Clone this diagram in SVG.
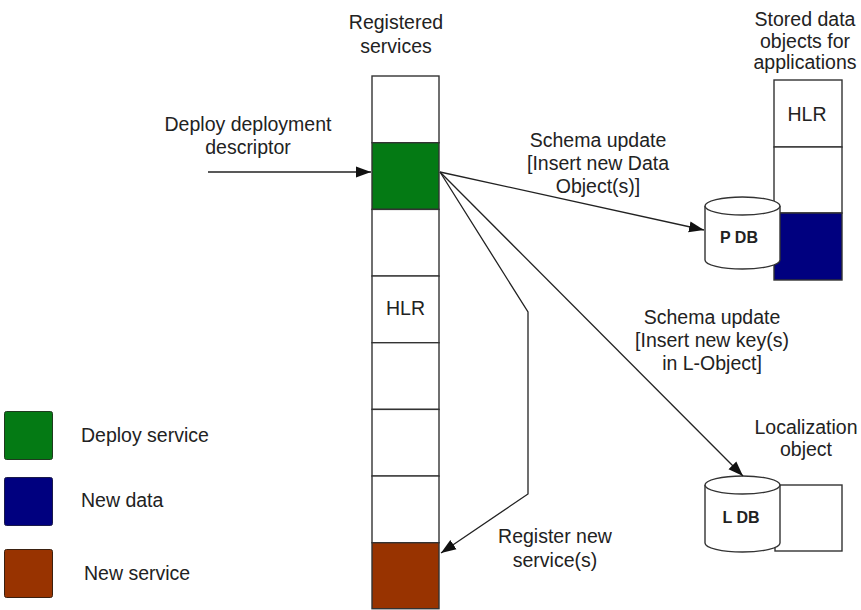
<svg xmlns="http://www.w3.org/2000/svg" width="861" height="610" viewBox="0 0 861 610">
<defs>
<style>
.t{font-family:"Liberation Sans",Arial,sans-serif;font-size:19.5px;fill:#222;}
.m{text-anchor:middle;}
.b{font-weight:bold;font-size:16px;}
.box{fill:#fff;stroke:#333;stroke-width:1.4;}
.green{fill:#047a14;}
.navy{fill:#00007f;}
.brown{fill:#983300;}
.conn{fill:none;stroke:#222;stroke-width:1.3;}
.db{fill:#fff;stroke:#333;stroke-width:1.4;}
</style>
<marker id="ah" markerWidth="16" markerHeight="12" refX="15" refY="6" orient="auto" markerUnits="userSpaceOnUse">
<path d="M0,0.5 L15,6 L0,11.5 Z" fill="#111"/>
</marker>
</defs>
<rect width="861" height="610" fill="#fff"/>

<g id="registered-services">
<text class="t m" x="396" y="29">Registered</text>
<text class="t m" x="396" y="53">services</text>
<rect class="box" x="372" y="76" width="67" height="66.7"/>
<rect class="box green" x="372" y="142.7" width="67" height="66.7"/>
<rect class="box" x="372" y="209.4" width="67" height="66.7"/>
<rect class="box" x="372" y="276" width="67" height="66.7"/>
<text class="t m" x="405.5" y="315">HLR</text>
<rect class="box" x="372" y="342.7" width="67" height="66.7"/>
<rect class="box" x="372" y="409.4" width="67" height="66.7"/>
<rect class="box" x="372" y="476" width="67" height="66.7"/>
<rect class="box brown" x="372" y="542.7" width="67" height="66"/>
</g>

<g id="stored-data">
<text class="t m" x="805" y="26">Stored data</text>
<text class="t m" x="805" y="48">objects for</text>
<text class="t m" x="805" y="69">applications</text>
<rect class="box" x="774" y="80" width="68" height="67"/>
<text class="t m" x="807" y="121">HLR</text>
<rect class="box" x="774" y="147" width="68" height="66"/>
<rect class="box navy" x="774" y="213" width="68" height="67"/>
</g>

<g id="pdb">
<path class="db" d="M705,206 A37.5,9 0 0 1 780,206 V260 A37.5,9 0 0 1 705,260 Z"/>
<path class="db" d="M705,206 A37.5,9 0 0 0 780,206"/>
<text class="t m b" x="739" y="243">P DB</text>
</g>

<g id="localization-object">
<text class="t m" x="806" y="434">Localization</text>
<text class="t m" x="806" y="456">object</text>
<rect class="box" x="775" y="485" width="67" height="66"/>
</g>

<g id="ldb">
<path class="db" d="M705,485 A37.5,9 0 0 1 780,485 V543 A37.5,9 0 0 1 705,543 Z"/>
<path class="db" d="M705,485 A37.5,9 0 0 0 780,485"/>
<text class="t m b" x="741" y="523">L DB</text>
</g>

<g id="connectors">
<line class="conn" x1="208" y1="172" x2="371" y2="172" marker-end="url(#ah)"/>
<line class="conn" x1="440" y1="172" x2="704" y2="230" marker-end="url(#ah)"/>
<line class="conn" x1="440" y1="172" x2="743" y2="476" marker-end="url(#ah)"/>
<polyline class="conn" points="440,172 528,312 528,494 441,553" marker-end="url(#ah)"/>
</g>

<g id="labels">
<text class="t m" x="248" y="131">Deploy deployment</text>
<text class="t m" x="248" y="154">descriptor</text>
<text class="t m" x="598" y="147">Schema update</text>
<text class="t m" x="598" y="170">[Insert new Data</text>
<text class="t m" x="598" y="193">Object(s)]</text>
<text class="t m" x="712" y="324">Schema update</text>
<text class="t m" x="712" y="347">[Insert new key(s)</text>
<text class="t m" x="712" y="370">in L-Object]</text>
<text class="t m" x="555" y="543">Register new</text>
<text class="t m" x="555" y="567">service(s)</text>
</g>

<g id="legend">
<rect x="4.5" y="411.5" width="48" height="48" rx="2" fill="#047a14" stroke="#1f3a1f" stroke-width="1"/>
<text class="t" x="81" y="442">Deploy service</text>
<rect x="4.5" y="477.5" width="48" height="48" rx="2" fill="#00007f" stroke="#1a1a4a" stroke-width="1"/>
<text class="t" x="81" y="507">New data</text>
<rect x="4.5" y="549.5" width="48" height="48" rx="2" fill="#983300" stroke="#3a2010" stroke-width="1"/>
<text class="t" x="84" y="580">New service</text>
</g>
</svg>
